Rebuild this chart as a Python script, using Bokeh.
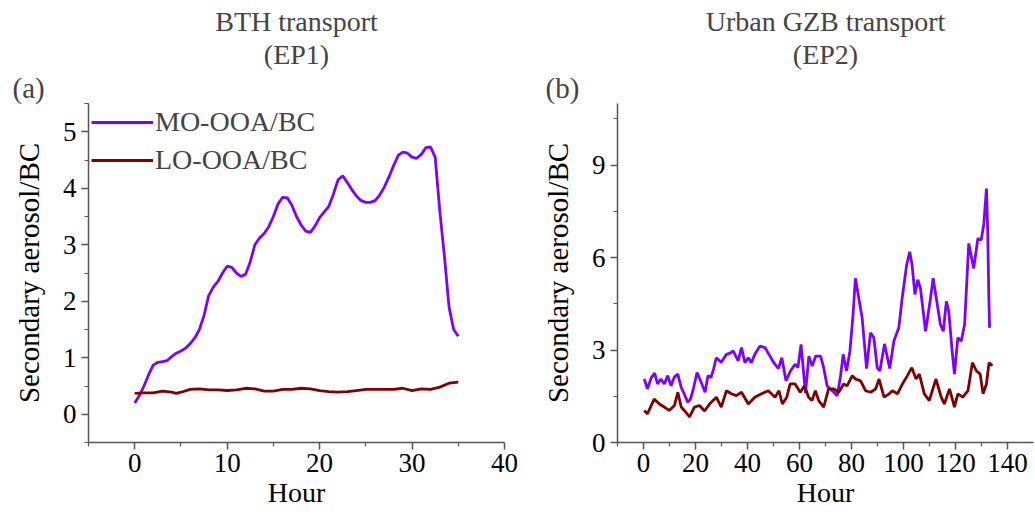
from bokeh.plotting import figure
from bokeh.layouts import row
from bokeh.models import FixedTicker, Title, Legend, LegendItem, Range1d
from bokeh.embed import file_html
from bokeh.resources import INLINE

# ---------------- data ----------------
hours_a_mo = [0, 0.5, 1, 1.5, 2, 2.5, 3, 3.5, 4, 4.5, 5, 5.5, 6, 6.5, 7, 7.5, 8, 8.5, 9, 9.5,
              10, 10.5, 11, 11.5, 12, 12.5, 13, 13.5, 14, 14.5, 15, 15.5, 16, 16.5, 17, 17.5,
              18, 18.5, 19, 19.5, 20, 20.5, 21, 21.5, 22, 22.5, 23, 23.5, 24, 24.5, 25, 25.5,
              26, 26.5, 27, 27.5, 28, 28.5, 29, 29.5, 30, 30.5, 31, 31.5, 32, 32.5, 33, 33.5,
              34, 34.5, 35]
mo_a = [0.2, 0.33, 0.5, 0.7, 0.87, 0.92, 0.93, 0.95, 1.02, 1.08, 1.12, 1.17, 1.25, 1.35, 1.5,
        1.75, 2.1, 2.25, 2.35, 2.5, 2.62, 2.6, 2.5, 2.44, 2.48, 2.7, 3.0, 3.12, 3.2, 3.32, 3.5,
        3.72, 3.84, 3.83, 3.7, 3.5, 3.35, 3.24, 3.22, 3.33, 3.48, 3.58, 3.68, 3.9, 4.15, 4.22,
        4.1, 3.97, 3.86, 3.78, 3.75, 3.75, 3.78, 3.88, 4.02, 4.2, 4.4, 4.58, 4.64, 4.62, 4.55,
        4.53, 4.6, 4.72, 4.73, 4.55, 3.6, 2.8, 1.9, 1.5, 1.38]

hours_a_lo = [0, 1, 2, 3, 4, 4.5, 5, 6, 7, 8, 9, 10, 11, 12, 13, 14, 15, 16, 17, 18, 19, 20,
              21, 22, 23, 24, 25, 26, 27, 28, 29, 30, 31, 32, 33, 34, 35]
lo_a = [0.37, 0.38, 0.38, 0.41, 0.39, 0.37, 0.39, 0.44, 0.45, 0.43, 0.43, 0.42, 0.43, 0.46,
        0.45, 0.41, 0.41, 0.44, 0.44, 0.46, 0.45, 0.42, 0.40, 0.39, 0.40, 0.42, 0.44, 0.44,
        0.44, 0.44, 0.46, 0.42, 0.45, 0.44, 0.48, 0.55, 0.57]

hours_b_mo = [0.3, 1.5, 3, 4.3, 5.4, 6.7, 8, 9.3, 10.6, 11.9, 13.2, 14.5, 15.8, 17, 18, 19,
              20.6, 22.2, 23.7, 24.8, 26, 27, 28, 29.9, 31.9, 33.3, 34.5, 36.4, 37.7, 39, 40.3,
              41.5, 42.8, 44.8, 46.7, 48.6, 50.1, 51.9, 53.2, 54.8, 56.5, 58.3, 59.4, 60.6,
              61.4, 62.3, 63.6, 64.9, 66.2, 68.1, 69.3, 70.6, 72.6, 74.5, 75.8, 76.8, 78.1,
              79.4, 80.6, 81.5, 82.8, 84.1, 85.8, 87.3, 88.6, 89.9, 90.9, 92.7, 93.7, 94.7,
              96.3, 98.2, 99.5, 101.2, 102.4, 103.3, 104.4, 105.5, 106.5, 108.5, 110.4, 111.4,
              112.6, 114.2, 115.3, 116.5, 117.4, 118.7, 119.6, 120.9, 122.2, 123.5, 125.1,
              127, 128.6, 129.9, 130.9, 131.9, 132.4, 132.8, 133.1]
mo_b = [2.06, 1.74, 2.1, 2.25, 1.9, 2.06, 1.9, 2.17, 1.84, 2.13, 2.22, 1.79, 1.55, 1.31, 1.4,
        1.68, 2.27, 1.95, 1.63, 2.17, 2.11, 2.4, 2.75, 2.6, 2.86, 2.9, 2.97, 2.65, 3.08, 2.59,
        2.75, 2.59, 2.86, 3.13, 3.08, 2.81, 2.59, 2.4, 2.75, 2.0, 2.32, 2.54, 2.43, 3.18, 2.43,
        1.6, 2.8, 2.48, 2.8, 2.8, 2.43, 1.84, 1.68, 1.52, 2.16, 2.86, 2.32, 2.97, 4.15, 5.33,
        4.69, 4.04, 2.4, 3.56, 3.4, 2.43, 2.32, 3.2, 2.8, 2.4, 3.29, 3.72, 4.69, 5.76, 6.19,
        5.76, 4.8, 5.28, 5.01, 3.61, 4.69, 5.33, 4.69, 3.83, 3.61, 4.58, 4.26, 2.97, 2.22,
        3.4, 3.29, 3.83, 6.46, 5.65, 6.62, 6.57, 7.1, 8.24, 6.84, 4.8, 3.72]

hours_b_lo = [0.3, 1.5, 4.1, 6.1, 8, 9.9, 11.9, 13.2, 14.5, 15.7, 17.7, 19.6, 21.5, 23.5, 25.4,
              28, 29.9, 31.9, 33.8, 35.7, 37.7, 40.3, 42.8, 45.4, 48, 50.6, 52.1, 53.4, 55.1,
              56.4, 58.3, 60.3, 61.9, 63.5, 64.8, 66.1, 67.4, 69.3, 71.2, 73.2, 75.1, 77, 78.3,
              80.3, 81.5, 83.5, 85.4, 87.4, 89.3, 90.6, 92.5, 94.5, 95.7, 97.7, 99.6, 101.5,
              103.2, 104.8, 106.1, 108, 109.9, 112.5, 114.5, 115.7, 117.7, 119.6, 120.9, 122.8,
              124.8, 126.5, 128, 129.5, 130.6, 131.9, 132.9, 134.2]
lo_b = [1.04, 0.93, 1.41, 1.25, 1.15, 1.04, 1.2, 1.63, 1.15, 1.04, 0.83, 1.15, 1.2, 1.02, 1.25,
        1.47, 1.15, 1.68, 1.58, 1.52, 1.63, 1.25, 1.47, 1.58, 1.68, 1.47, 1.68, 1.25, 1.47,
        1.9, 1.9, 1.63, 1.84, 1.47, 1.36, 1.68, 1.36, 1.15, 1.74, 1.74, 1.63, 1.9, 1.84, 2.17,
        2.06, 2.0, 1.68, 1.63, 1.74, 2.06, 1.47, 1.58, 1.68, 1.58, 1.9, 2.17, 2.43, 2.06, 2.22,
        1.58, 1.36, 2.06, 1.47, 1.25, 1.74, 1.15, 1.58, 1.47, 1.68, 2.59, 2.33, 2.22, 1.58,
        1.9, 2.59, 2.49]

x_ticks_a = [0, 10, 20, 30, 40]
x_minor_a = [-5, 5, 15, 25, 35]
y_ticks_a = [0, 1, 2, 3, 4, 5]
y_minor_a = [-0.5, 0.5, 1.5, 2.5, 3.5, 4.5, 5.5]
x_ticks_b = [0, 20, 40, 60, 80, 100, 120, 140]
x_minor_b = [-10, 10, 30, 50, 70, 90, 110, 130]
y_ticks_b = [0, 3, 6, 9]
y_minor_b = [1.5, 4.5, 7.5, 10.5]

title_a = ["BTH transport", "(EP1)"]
title_b = ["Urban GZB transport", "(EP2)"]
panel_a = "(a)"
panel_b = "(b)"
label_mo = "MO-OOA/BC"
label_lo = "LO-OOA/BC"
x_label = "Hour"
y_label = "Secondary aerosol/BC"

PURPLE = "#7F00FF"
DARKRED = "#800000"
FONT = "Liberation Serif"
AXIS_COL = "#555555"


def style(p, xt, xm, yt, ym):
    p.xaxis.ticker = FixedTicker(ticks=xt, minor_ticks=xm)
    p.yaxis.ticker = FixedTicker(ticks=yt, minor_ticks=ym)
    p.xgrid.visible = False
    p.ygrid.visible = False
    p.outline_line_color = None
    for ax in (p.xaxis[0], p.yaxis[0]):
        ax.axis_line_color = AXIS_COL
        ax.axis_line_width = 1.5
        ax.major_tick_line_color = AXIS_COL
        ax.minor_tick_line_color = AXIS_COL
        ax.major_tick_line_width = 1.5
        ax.minor_tick_line_width = 1.2
        ax.major_tick_in = 0
        ax.major_tick_out = 7
        ax.minor_tick_in = 0
        ax.minor_tick_out = 4
        ax.major_label_text_font = FONT
        ax.major_label_text_font_size = "27px"
        ax.major_label_text_color = "black"
        ax.axis_label_text_font = FONT
        ax.axis_label_text_font_style = "normal"
        ax.axis_label_text_color = "black"
    p.xaxis.axis_label = x_label
    p.xaxis.axis_label_text_font_size = "28px"
    p.xaxis.major_label_standoff = 4
    p.xaxis.axis_label_standoff = 2
    p.yaxis.axis_label = y_label
    p.yaxis.axis_label_text_font_size = "29px"
    p.yaxis.major_label_standoff = 5
    p.yaxis.axis_label_standoff = 15


def add_titles(p, lines, tag, tag_offset):
    # closest to the frame first: the panel tag, then the two title lines
    p.add_layout(Title(text=tag, align="left", offset=tag_offset, text_font=FONT,
                       text_font_size="29px", text_font_style="normal",
                       standoff=0), "above")
    p.add_layout(Title(text=lines[1], align="center", text_font=FONT,
                       text_font_size="28px", text_font_style="normal",
                       standoff=0), "above")
    p.add_layout(Title(text=lines[0], align="center", text_font=FONT,
                       text_font_size="28px", text_font_style="normal",
                       standoff=0), "above")


H = 514

# ---------------- panel (a) ----------------
pa = figure(width=528, height=H, x_range=Range1d(-5, 40), y_range=Range1d(-0.5, 5.5),
            output_backend="svg", toolbar_location=None,
            min_border_left=88, min_border_right=24, min_border_top=103,
            min_border_bottom=72, background_fill_color="white",
            border_fill_color="white")
ra = pa.line(hours_a_mo, mo_a, line_color=PURPLE, line_width=2.8)
rb = pa.line(hours_a_lo, lo_a, line_color=DARKRED, line_width=2.8)
style(pa, x_ticks_a, x_minor_a, y_ticks_a, y_minor_a)
add_titles(pa, title_a, panel_a, -76)
leg = Legend(items=[LegendItem(label=label_mo, renderers=[ra]),
                    LegendItem(label=label_lo, renderers=[rb])],
             location="top_left", background_fill_alpha=0, border_line_alpha=0,
             label_text_font=FONT, label_text_font_size="28px",
             glyph_width=62, glyph_height=30, label_height=30, spacing=6,
             padding=1, margin=2, label_standoff=2)
pa.add_layout(leg, "center")

# ---------------- panel (b) ----------------
pb = figure(width=507, height=H, x_range=Range1d(-10, 150), y_range=Range1d(0, 11),
            output_backend="svg", toolbar_location=None,
            min_border_left=89, min_border_right=2, min_border_top=103,
            min_border_bottom=72, background_fill_color="white",
            border_fill_color="white")
pb.line(hours_b_mo, mo_b, line_color=PURPLE, line_width=2.8)
pb.line(hours_b_lo, lo_b, line_color=DARKRED, line_width=2.8)
style(pb, x_ticks_b, x_minor_b, y_ticks_b, y_minor_b)
add_titles(pb, title_b, panel_b, -72)

layout = row(pa, pb)
open("out.html", "w").write(file_html(layout, INLINE))
